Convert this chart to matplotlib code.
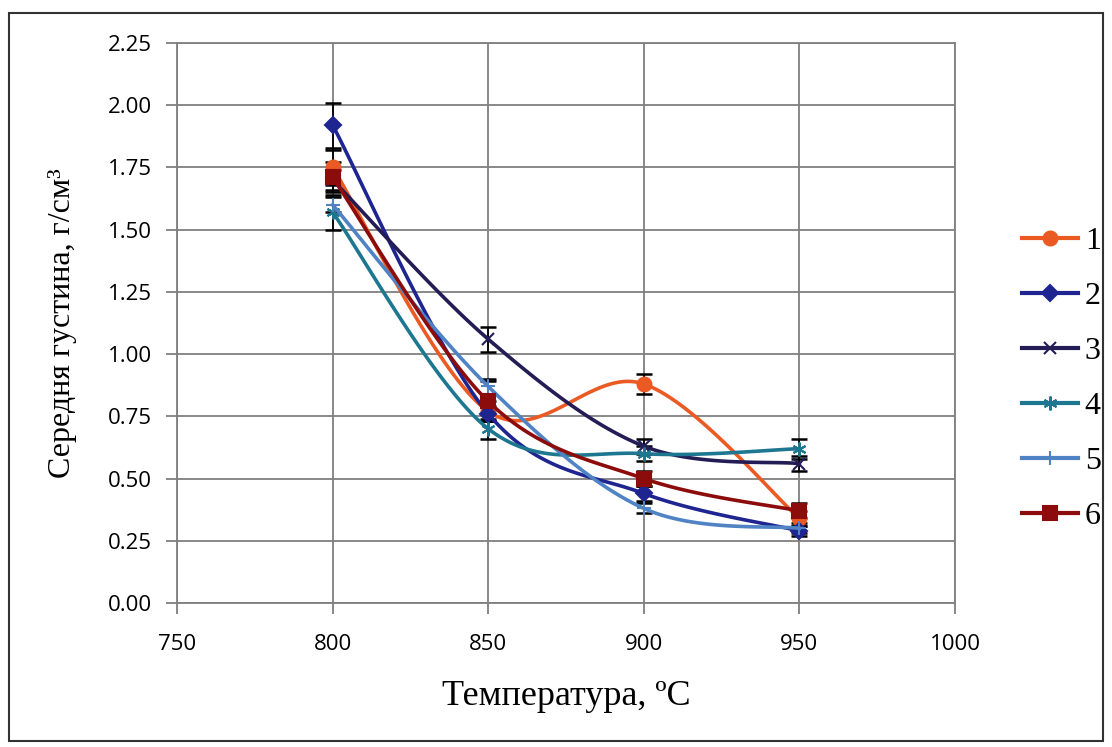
#!/usr/bin/env python3
"""Average density vs temperature, six samples with error bars."""

import matplotlib
matplotlib.use("Agg")
import matplotlib.pyplot as plt
import numpy as np
from matplotlib.patches import Rectangle

# ---------------------------------------------------------------------------
# Data
# ---------------------------------------------------------------------------

temps = [800, 850, 900, 950]
labels = ["1", "2", "3", "4", "5", "6"]

dens_1 = [1.75, 0.77, 0.88, 0.34]
dens_2 = [1.92, 0.76, 0.44, 0.29]
dens_3 = [1.70, 1.06, 0.63, 0.56]
dens_4 = [1.57, 0.70, 0.60, 0.62]
dens_5 = [1.60, 0.87, 0.38, 0.30]
dens_6 = [1.71, 0.81, 0.50, 0.37]

err_1 = [0.07, 0.04, 0.04, 0.03]
err_2 = [0.09, 0.03, 0.03, 0.02]
err_3 = [0.04, 0.05, 0.03, 0.03]
err_4 = [0.07, 0.04, 0.03, 0.04]
err_5 = [0.03, 0.03, 0.02, 0.02]
err_6 = [0.06, 0.08, 0.03, 0.03]

x_ticks = [750, 800, 850, 900, 950, 1000]
y_ticks = [0.0, 0.25, 0.5, 0.75, 1.0, 1.25, 1.5, 1.75, 2.0, 2.25]

colors = ["#ec5a24", "#1f2590", "#231c55", "#1d7790", "#4f83c4", "#8c0b0b"]
markers = ["o", "D", "x", (6, 2, 0), "+", "s"]
msizes = [10, 8, 9, 10, 10, 10]

series = [dens_1, dens_2, dens_3, dens_4, dens_5, dens_6]
errors = [err_1, err_2, err_3, err_4, err_5, err_6]

XLIM = (750, 1000)
YLIM = (0, 2.25)

# ---------------------------------------------------------------------------
# Smoothed line (Excel-style cardinal spline, computed in screen proportions)
# ---------------------------------------------------------------------------

def smooth(xs, ys, sx, sy, n=40):
    px = (np.asarray(xs, float) - XLIM[0]) / (XLIM[1] - XLIM[0]) * sx
    py = (np.asarray(ys, float) - YLIM[0]) / (YLIM[1] - YLIM[0]) * sy
    pts = np.column_stack([px, py])
    ext = np.vstack([pts[0], pts, pts[-1]])
    out = []
    t = np.linspace(0, 1, n)[:, None]
    for i in range(1, len(ext) - 2):
        p0, p1, p2, p3 = ext[i - 1], ext[i], ext[i + 1], ext[i + 2]
        c1 = p1 + (p2 - p0) / 6
        c2 = p2 - (p3 - p1) / 6
        seg = ((1 - t) ** 3) * p1 + 3 * ((1 - t) ** 2) * t * c1 \
            + 3 * (1 - t) * t ** 2 * c2 + t ** 3 * p2
        out.append(seg if i == 1 else seg[1:])
    curve = np.vstack(out)
    cx = curve[:, 0] / sx * (XLIM[1] - XLIM[0]) + XLIM[0]
    cy = curve[:, 1] / sy * (YLIM[1] - YLIM[0]) + YLIM[0]
    return cx, cy

# ---------------------------------------------------------------------------
# Figure
# ---------------------------------------------------------------------------

fig = plt.figure(figsize=(11.12, 7.47), dpi=100)
ax = fig.add_axes([0.1592, 0.1928, 0.6996, 0.7496])

fig.patches.append(Rectangle((0.008, 0.008), 0.984, 0.975, transform=fig.transFigure,
                             fill=False, edgecolor="#333333", linewidth=1.5))

sx, sy = 778, 560
for i, (ys, err) in enumerate(zip(series, errors)):
    ax.errorbar(temps, ys, yerr=err, fmt="none", ecolor="black",
                elinewidth=1.3, capsize=6, capthick=1.8, zorder=3)
for i, ys in enumerate(series):
    cx, cy = smooth(temps, ys, sx, sy)
    ax.plot(cx, cy, color=colors[i], linewidth=2.6, zorder=4 + i * 0.1)
    ax.plot(temps, ys, linestyle="none", marker=markers[i], markersize=msizes[i],
            color=colors[i], markeredgewidth=1.5, zorder=4 + i * 0.1)

ax.set_xlim(*XLIM)
ax.set_ylim(*YLIM)
ax.set_xticks(x_ticks)
ax.set_yticks(y_ticks)
ax.set_yticklabels([f"{v:.2f}" for v in y_ticks])
ax.grid(True, color="#7f7f7f", linewidth=1.3)
ax.set_axisbelow(True)
for s in ax.spines.values():
    s.set_color("#7f7f7f")
    s.set_linewidth(1.3)
ax.tick_params(axis="both", direction="out", length=8, width=1.3, color="#7f7f7f",
               labelsize=16)
ax.tick_params(axis="x", pad=14)
ax.tick_params(axis="y", pad=10)
for lab in ax.get_xticklabels() + ax.get_yticklabels():
    lab.set_fontfamily("Open Sans")

serif = "Liberation Serif"
ax.set_xlabel("Температура, ºС", fontsize=26, fontfamily=serif, labelpad=18)
ax.set_ylabel("Середня густина, г/см³", fontsize=23, fontfamily=serif, labelpad=22)

handles = []
for i in range(6):
    h, = ax.plot([], [], color=colors[i], linewidth=3, marker=markers[i],
                 markersize=msizes[i], markeredgewidth=1.5)
    handles.append(h)
fig.legend(handles, labels, loc="center left", bbox_to_anchor=(0.919, 0.493),
           frameon=False, prop={"family": serif, "size": 23},
           borderpad=0, borderaxespad=0,
           handlelength=1.75, handletextpad=0.22, labelspacing=0.8)

plt.savefig("out.png", dpi=100)
plt.close()
